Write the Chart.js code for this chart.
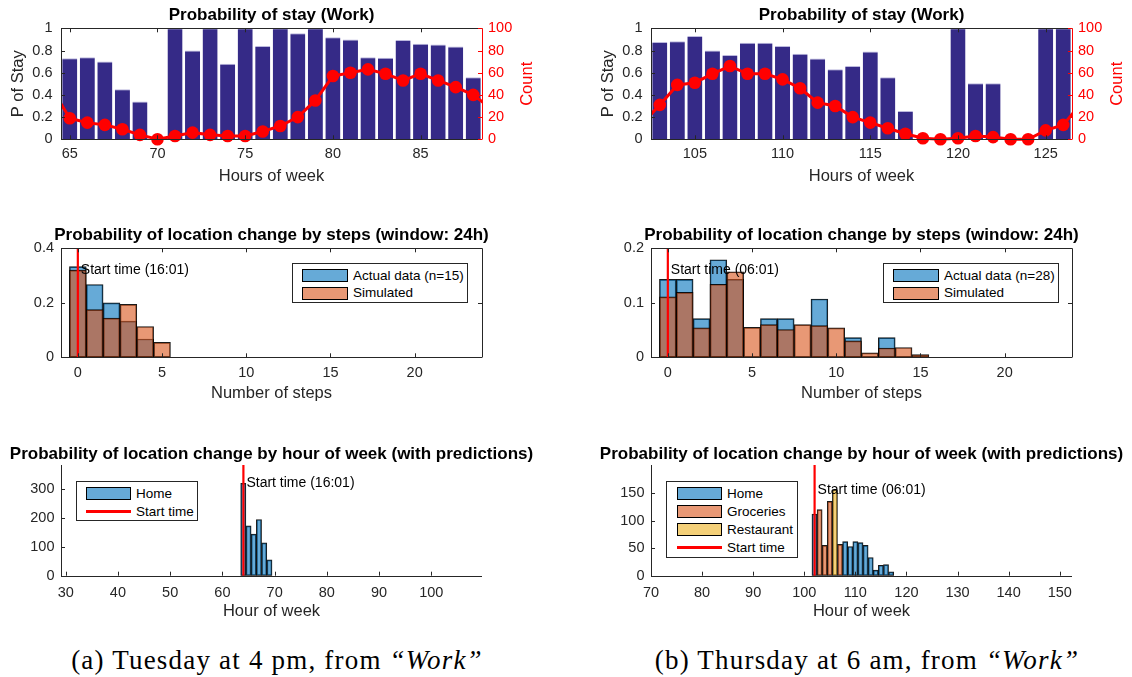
<!DOCTYPE html>
<html>
<head>
<meta charset="utf-8">
<script src="https://cdn.jsdelivr.net/npm/chart.js@4.4.1/dist/chart.umd.min.js"></script>
<style>
  html, body { margin: 0; padding: 0; background: #fff; }
  body { width: 1132px; height: 677px; position: relative; overflow: hidden; font-family: "Liberation Sans", Arial, sans-serif; }
  canvas { position: absolute; }
  .legend { position: absolute; background: #fff; border: 1px solid #262626; box-sizing: border-box; font-size: 13.5px; color: #000; }
  .legend .txt { position: absolute; white-space: nowrap; line-height: 16px; height: 16px; }
  .legend .sw { position: absolute; box-sizing: border-box; border: 1px solid #000; height: 13px; }
  .legend .ln { position: absolute; height: 2.5px; background: #ff0000; }
  .cap { position: absolute; width: 600px; text-align: center; font-family: "Liberation Serif", "DejaVu Serif", serif; font-size: 27px; line-height: 30px; color: #000; letter-spacing: 1.2px; }
</style>
</head>
<body>
<script>
// ===================== DATA =====================
// Panel (a): Tuesday at 4 pm, from "Work"
const stayHoursA  = [65,66,67,68,69,70,71,72,73,74,75,76,77,78,79,80,81,82,83,84,85,86,87,88];
const stayProbA   = [0.73,0.74,0.70,0.45,0.34,0,1.0,0.80,1.0,0.68,1.0,0.84,1.0,0.955,1.0,0.92,0.90,0.74,0.735,0.895,0.86,0.855,0.835,0.56];
const countHoursA = [64,65,66,67,68,69,70,71,72,73,74,75,76,77,78,79,80,81,82,83,84,85,86,87,88,89];
const countA      = [45,19,15,13,9,4,0,3,6,4,3,3,7,12,20,35,57,60,63,59,53,59,53,47,40,28];

const stepsA      = [0,1,2,3,4,5];
const actualA     = [0.333,0.267,0.2,0.133,0.067,0];
const simulatedA  = [0.32,0.175,0.144,0.194,0.113,0.055];

const homeHoursA  = [64,65,66,67,68,69];
const homeCountA  = [320,173,144,195,114,55];

const startHourA  = 64.02;   // 16:01 Tuesday
const startStepA  = 0;
const startTextA  = "Start time (16:01)";

// Panel (b): Thursday at 6 am, from "Work"
const stayHoursB  = [103,104,105,106,107,108,109,110,111,112,113,114,115,116,117,118,119,120,121,122,123,124,125,126];
const stayProbB   = [0.877,0.883,0.93,0.80,0.76,0.87,0.87,0.84,0.77,0.727,0.63,0.66,0.79,0.56,0.255,0,0,1.0,0.505,0.505,0,0,1.0,1.0];
const countHoursB = [102,103,104,105,106,107,108,109,110,111,112,113,114,115,116,117,118,119,120,121,122,123,124,125,126,127];
const countB      = [14,31,49,51,59,66,59,59,54,46,33,30,20,15,10,5,1,0,1,3,2,0,0,8,13,32];

const stepsB      = [0,1,2,3,4,5,6,7,8,9,10,11,12,13,14,15];
const actualB     = [0.143,0.143,0.071,0.179,0.143,0,0.071,0.071,0,0.107,0,0.036,0,0.036,0,0];
const simulatedB  = [0.111,0.119,0.054,0.134,0.157,0.055,0.060,0.051,0.060,0.058,0.054,0.030,0.008,0.017,0.018,0.005];

const homeHoursB  = [102,108,109,110,111,112,113,114,115,116,117];
const homeCountB  = [112,62,53,62,60,55,33,10,19,20,7];
const grocHoursB  = [103,104,105,107];
const grocCountB  = [120,55,135,57];
const restHoursB  = [106];
const restCountB  = [156];

const startHourB  = 102.02;  // 06:01 Thursday
const startStepB  = 0;
const startTextB  = "Start time (06:01)";

// axis limits & ticks
const stayXLimA = [64.5, 88.5],  stayXTicksA = [65,70,75,80,85];
const stayXLimB = [102.5, 126.5], stayXTicksB = [105,110,115,120,125];
const stayYLim = [0, 1],  stayYTicks = [0,0.2,0.4,0.6,0.8,1];
const countYLim = [0, 100], countYTicks = [0,20,40,60,80,100];
const stepXLim = [-1, 24], stepXTicks = [0,5,10,15,20];
const stepYLimA = [0, 0.4], stepYTicksA = [0,0.2,0.4];
const stepYLimB = [0, 0.2], stepYTicksB = [0,0.1,0.2];
const hourXLimA = [29.1, 109.7], hourXTicksA = [30,40,50,60,70,80,90,100];
const hourXLimB = [70, 152.4],   hourXTicksB = [70,80,90,100,110,120,130,140,150];
const hourYLimA = [0, 384], hourYTicksA = [0,100,200,300];
const hourYLimB = [0, 201], hourYTicksB = [0,50,100,150];
const startLabelYA = [0.32, 320];   // text y for step / hour panels
const startLabelYB = [0.16, 156];

// ===================== STYLE =====================
const FONT = '"Liberation Sans", Arial, Helvetica, sans-serif';
const AX = '#262626';
const RED = '#ff0000';
const NAVY = '#352a87';
const BLUE = 'rgba(0,114,189,0.6)';
const ORANGE = 'rgba(217,83,25,0.6)';
const YELLOW = 'rgba(237,177,32,0.6)';
const EDGE = 'rgba(0,0,0,0.9)';
const TICK_SIZE = 14.5, TITLE_SIZE = 17, LABEL_SIZE = 16.5;

const toXY = (xs, ys) => xs.map((x, i) => ({x: x, y: ys[i]}));

// MATLAB-like axes: inward ticks, box, extra texts
const matlabAxes = {
  id: 'matlabAxes',
  afterDatasetsDraw(chart, args, o) {
    const {ctx, chartArea: a, scales} = chart;
    const tl = 4;
    const al = v => Math.round(v) + 0.5;
    const seg = (x1, y1, x2, y2) => { ctx.moveTo(x1, y1); ctx.lineTo(x2, y2); };
    ctx.save();
    ctx.lineWidth = 1;
    ctx.strokeStyle = AX;
    ctx.beginPath();
    const xs = scales.x, ys = scales.y, y1 = scales.y1;
    xs.ticks.forEach(t => { const p = al(xs.getPixelForValue(t.value)); seg(p, a.bottom, p, a.bottom - tl); if (o.box) seg(p, a.top, p, a.top + tl); });
    ys.ticks.forEach(t => { const p = al(ys.getPixelForValue(t.value)); seg(a.left, p, a.left + tl, p); if (o.box && !y1) seg(a.right, p, a.right - tl, p); });
    seg(al(a.left), a.top, al(a.left), al(a.bottom));
    seg(al(a.left), al(a.bottom), a.right, al(a.bottom));
    if (o.box) {
      seg(al(a.left), al(a.top), al(a.right), al(a.top));
      if (!y1) seg(al(a.right), al(a.top), al(a.right), al(a.bottom));
    }
    ctx.stroke();
    if (y1) {
      ctx.strokeStyle = RED;
      ctx.beginPath();
      y1.ticks.forEach(t => { const p = al(y1.getPixelForValue(t.value)); seg(a.right, p, a.right - tl, p); });
      seg(al(a.right), al(a.top), al(a.right), al(a.bottom));
      ctx.stroke();
    }
    if (o.rightLabel) {
      ctx.save();
      ctx.translate(a.right + o.rightLabel.dx, (a.top + a.bottom) / 2);
      ctx.rotate(-Math.PI / 2);
      ctx.fillStyle = RED;
      ctx.font = LABEL_SIZE + 'px ' + FONT;
      ctx.textAlign = 'center';
      ctx.textBaseline = 'middle';
      ctx.fillText(o.rightLabel.text, 0, 0);
      ctx.restore();
    }
    if (o.startLabel) {
      const x = xs.getPixelForValue(o.startLabel.x) + 3;
      const y = ys.getPixelForValue(o.startLabel.y);
      ctx.fillStyle = '#000';
      ctx.font = '14px ' + FONT;
      ctx.textAlign = 'left';
      ctx.textBaseline = 'middle';
      ctx.fillText(o.startLabel.text, x, y);
    }
    ctx.restore();
  }
};

function build(box, area, spec) {
  const c = document.createElement('canvas');
  c.width = box.w; c.height = box.h;
  c.style.left = box.x + 'px'; c.style.top = box.y + 'px';
  c.style.width = box.w + 'px'; c.style.height = box.h + 'px';
  document.body.appendChild(c);
  const L = area.l - box.x, T = area.t - box.y;
  const R = box.x + box.w - area.r, B = box.y + box.h - area.b;
  const titlePadTop = spec.titleY - box.y - 0.6 * TITLE_SIZE;
  const titlePadBot = T - titlePadTop - 1.2 * TITLE_SIZE;
  const scales = {
    x: {
      type: 'linear', min: spec.xLim[0], max: spec.xLim[1], offset: false,
      grid: {display: false, drawTicks: false}, border: {display: false},
      afterBuildTicks: s => { s.ticks = spec.xTicks.map(v => ({value: v})); },
      ticks: {font: {family: FONT, size: TICK_SIZE}, color: AX, maxRotation: 0, autoSkip: false,
              padding: spec.xTickY - area.b - 0.6 * TICK_SIZE, callback: v => String(v)},
      title: {display: true, text: spec.xTitle, color: AX, font: {family: FONT, size: LABEL_SIZE},
              padding: {top: 0, bottom: box.y + box.h - spec.xTitleY - 0.6 * LABEL_SIZE}},
      afterFit: s => { s.height = B; }
    },
    y: {
      type: 'linear', position: 'left', min: spec.yLim[0], max: spec.yLim[1],
      grid: {display: false, drawTicks: false}, border: {display: false},
      afterBuildTicks: s => { s.ticks = spec.yTicks.map(v => ({value: v})); },
      ticks: {font: {family: FONT, size: TICK_SIZE}, color: AX, padding: spec.yTickPad, callback: v => String(v)},
      title: {display: !!spec.yTitle, text: spec.yTitle || '', color: AX, font: {family: FONT, size: LABEL_SIZE},
              padding: {top: spec.yTitleX ? spec.yTitleX - box.x - 0.6 * LABEL_SIZE : 0, bottom: 0}},
      afterFit: s => { s.width = L; }
    }
  };
  if (spec.y1) {
    scales.y1 = {
      type: 'linear', position: 'right', min: spec.y1.lim[0], max: spec.y1.lim[1],
      grid: {display: false, drawTicks: false}, border: {display: false},
      afterBuildTicks: s => { s.ticks = spec.y1.ticks.map(v => ({value: v})); },
      ticks: {font: {family: FONT, size: TICK_SIZE}, color: RED, padding: 6, callback: v => String(v)},
      afterFit: s => { s.width = R; }
    };
  } else {
    // empty right-hand spacer axis (keeps the title centred over the plot area)
    scales.yPad = {
      type: 'linear', position: 'right', min: 0, max: 1,
      grid: {display: false, drawTicks: false}, border: {display: false},
      ticks: {display: false},
      afterFit: s => { s.width = R; }
    };
  }
  return new Chart(c, {
    type: 'bar',
    data: {datasets: spec.datasets},
    options: {
      responsive: false, animation: false, devicePixelRatio: 1, events: [],
      layout: {padding: 0},
      scales: scales,
      plugins: {
        legend: {display: false},
        tooltip: {enabled: false},
        title: {display: true, text: spec.title, fullSize: true, color: '#000',
                font: {family: FONT, size: TITLE_SIZE, weight: 'bold'},
                padding: {top: titlePadTop, bottom: titlePadBot}},
        matlabAxes: spec.axes
      }
    },
    plugins: [matlabAxes]
  });
}

function stayDatasets(hours, prob, cHours, counts) {
  return [
    {type: 'line', label: 'Count', data: toXY(cHours, counts), yAxisID: 'y1',
     borderColor: RED, backgroundColor: RED, borderWidth: 3, pointRadius: 6.3, pointBorderWidth: 0,
     pointBackgroundColor: RED, tension: 0, clip: {left: 0, right: 0, top: false, bottom: false}, order: 0},
    {type: 'bar', label: 'P of Stay', data: toXY(hours, prob), yAxisID: 'y',
     backgroundColor: NAVY, borderColor: '#bcb9de', borderWidth: {top: 1, left: 0, right: 0, bottom: 0},
     borderSkipped: 'start', barPercentage: 0.86, categoryPercentage: 1, order: 1}
  ];
}
function histBar(label, xs, ys, color, order) {
  return {type: 'bar', label: label, data: toXY(xs, ys), yAxisID: 'y', backgroundColor: color,
          borderColor: EDGE, borderWidth: 1, borderSkipped: false, barPercentage: 1, categoryPercentage: 1,
          grouped: false, order: order};
}
function startLine(x, lim) {
  return {type: 'line', label: 'Start time', data: [{x: x, y: lim[0]}, {x: x, y: lim[1]}], yAxisID: 'y',
          borderColor: RED, borderWidth: 2.2, pointRadius: 0, order: 0};
}

// canvases are centred on their plot area so that long titles centre correctly
const COL_A = {x: 0, w: 543, l: 61, r: 482};
const COL_B = {x: 590, w: 543, l: 651, r: 1072};
const ROW1 = {y: 0, h: 200, t: 28.3, b: 139.3, titleY: 15, xTickY: 154.3, xTitleY: 176};
const ROW2 = {y: 215, h: 200, t: 248.3, b: 357.3, titleY: 235, xTickY: 373.3, xTitleY: 393};
const ROW3 = {y: 425, h: 205, t: 465, b: 575.7, titleY: 454, xTickY: 593.3, xTitleY: 611.5};

function place(col, row) {
  return [{x: col.x, y: row.y, w: col.w, h: row.h}, {l: col.l, r: col.r, t: row.t, b: row.b}];
}

// ---- Row 1: probability of stay ----
[[COL_A, stayHoursA, stayProbA, countHoursA, countA, stayXLimA, stayXTicksA, 18],
 [COL_B, stayHoursB, stayProbB, countHoursB, countB, stayXLimB, stayXTicksB, 608]].forEach(p => {
  const [box, area] = place(p[0], ROW1);
  build(box, area, {
    title: 'Probability of stay (Work)', titleY: ROW1.titleY, xTickY: ROW1.xTickY, xTitleY: ROW1.xTitleY,
    xLim: p[5], xTicks: p[6], xTitle: 'Hours of week',
    yLim: stayYLim, yTicks: stayYTicks, yTitle: 'P of Stay', yTitleX: p[7], yTickPad: 8.5,
    y1: {lim: countYLim, ticks: countYTicks},
    axes: {box: true, rightLabel: {text: 'Count', dx: 45.5}},
    datasets: stayDatasets(p[1], p[2], p[3], p[4])
  });
});

// ---- Row 2: by steps ----
[[COL_A, stepsA, actualA, simulatedA, stepYLimA, stepYTicksA, startStepA, startTextA, startLabelYA[0]],
 [COL_B, stepsB, actualB, simulatedB, stepYLimB, stepYTicksB, startStepB, startTextB, startLabelYB[0]]].forEach(p => {
  const [box, area] = place(p[0], ROW2);
  build(box, area, {
    title: 'Probability of location change by steps (window: 24h)', titleY: ROW2.titleY,
    xTickY: ROW2.xTickY, xTitleY: ROW2.xTitleY,
    xLim: stepXLim, xTicks: stepXTicks, xTitle: 'Number of steps',
    yLim: p[4], yTicks: p[5], yTickPad: 7,
    axes: {box: true, startLabel: {x: p[6], y: p[8], text: p[7]}},
    datasets: [
      startLine(p[6], p[4]),
      histBar('Simulated', p[1], p[3], ORANGE, 1),
      histBar('Actual data', p[1], p[2], BLUE, 2)
    ]
  });
});

// ---- Row 3: by hour of week ----
(function () {
  let [box, area] = place(COL_A, ROW3);
  build(box, area, {
    title: 'Probability of location change by hour of week (with predictions)', titleY: ROW3.titleY,
    xTickY: ROW3.xTickY, xTitleY: ROW3.xTitleY,
    xLim: hourXLimA, xTicks: hourXTicksA, xTitle: 'Hour of week',
    yLim: hourYLimA, yTicks: hourYTicksA, yTickPad: 6.5,
    axes: {box: false, startLabel: {x: startHourA, y: startLabelYA[1], text: startTextA}},
    datasets: [
      startLine(startHourA, hourYLimA),
      histBar('Home', homeHoursA, homeCountA, BLUE, 1)
    ]
  });
  [box, area] = place(COL_B, ROW3);
  build(box, area, {
    title: 'Probability of location change by hour of week (with predictions)', titleY: ROW3.titleY,
    xTickY: ROW3.xTickY, xTitleY: ROW3.xTitleY,
    xLim: hourXLimB, xTicks: hourXTicksB, xTitle: 'Hour of week',
    yLim: hourYLimB, yTicks: hourYTicksB, yTickPad: 6.5,
    axes: {box: false, startLabel: {x: startHourB, y: startLabelYB[1], text: startTextB}},
    datasets: [
      startLine(startHourB, hourYLimB),
      histBar('Restaurant', restHoursB, restCountB, YELLOW, 1),
      histBar('Groceries', grocHoursB, grocCountB, ORANGE, 2),
      histBar('Home', homeHoursB, homeCountB, BLUE, 3)
    ]
  });
})();

// ===================== LEGENDS (HTML) =====================
function legend(x, y, w, h, items) {
  const d = document.createElement('div');
  d.className = 'legend';
  d.style.left = x + 'px'; d.style.top = y + 'px'; d.style.width = w + 'px'; d.style.height = h + 'px';
  items.forEach(it => {
    if (it.line) {
      const l = document.createElement('div'); l.className = 'ln';
      l.style.left = it.sx + 'px'; l.style.width = it.sw + 'px'; l.style.top = (it.cy - 1.25) + 'px';
      d.appendChild(l);
    } else {
      const s = document.createElement('div'); s.className = 'sw';
      s.style.left = it.sx + 'px'; s.style.width = it.sw + 'px'; s.style.top = (it.cy - 6.5) + 'px';
      s.style.background = it.color;
      d.appendChild(s);
    }
    const t = document.createElement('div'); t.className = 'txt';
    t.style.left = it.tx + 'px'; t.style.top = (it.cy - 8) + 'px';
    t.textContent = it.text;
    d.appendChild(t);
  });
  document.body.appendChild(d);
}
legend(292, 263, 176, 40, [
  {text: 'Actual data (n=15)', color: BLUE, sx: 9, sw: 46, tx: 60, cy: 11.5},
  {text: 'Simulated', color: ORANGE, sx: 9, sw: 46, tx: 60, cy: 29}
]);
legend(883, 263, 176, 40, [
  {text: 'Actual data (n=28)', color: BLUE, sx: 9, sw: 46, tx: 60, cy: 11.5},
  {text: 'Simulated', color: ORANGE, sx: 9, sw: 46, tx: 60, cy: 29}
]);
legend(76, 481, 122, 40, [
  {text: 'Home', color: BLUE, sx: 9, sw: 45, tx: 59, cy: 11.5},
  {text: 'Start time', line: true, sx: 9, sw: 45, tx: 59, cy: 29.5}
]);
legend(666, 481, 132, 77, [
  {text: 'Home', color: BLUE, sx: 9.5, sw: 45, tx: 60, cy: 11.5},
  {text: 'Groceries', color: ORANGE, sx: 9.5, sw: 45, tx: 60, cy: 29.5},
  {text: 'Restaurant', color: YELLOW, sx: 9.5, sw: 45, tx: 60, cy: 47.5},
  {text: 'Start time', line: true, sx: 9.5, sw: 45, tx: 60, cy: 65.5}
]);

// ===================== CAPTIONS =====================
function caption(cx, html) {
  const d = document.createElement('div');
  d.className = 'cap';
  d.style.left = (cx - 300) + 'px';
  d.style.top = '645px';
  d.innerHTML = html;
  document.body.appendChild(d);
}
caption(277, '(a) Tuesday at 4 pm, from <i>“Work”</i>');
caption(867, '(b) Thursday at 6 am, from <i>“Work”</i>');
</script>
</body>
</html>
